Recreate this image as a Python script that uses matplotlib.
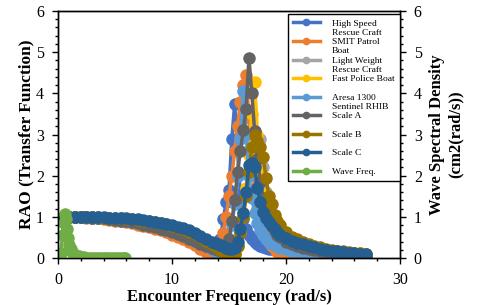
import matplotlib
matplotlib.use('Agg')
import matplotlib.pyplot as plt
from matplotlib.ticker import MultipleLocator
from matplotlib.transforms import IdentityTransform

plt.rcParams['font.family'] = ['Liberation Serif', 'DejaVu Serif']

# encounter frequency (rad/s)
freq = [0.5, 1, 1.5, 2, 2.5, 3, 3.5, 4, 4.5, 5, 5.5, 6, 6.5, 7, 7.5, 8, 8.5, 9, 9.5,
        10, 10.5, 11, 11.5, 12, 12.5, 13, 13.5,
        13.75, 14, 14.25, 14.5, 14.75, 15, 15.25, 15.5, 15.75, 16, 16.25, 16.5,
        16.75, 17, 17.25, 17.5, 17.75, 18, 18.25, 18.5, 18.75, 19, 19.25, 19.5,
        20, 20.5, 21, 21.5, 22, 22.5, 23, 23.5, 24, 24.5, 25, 25.5, 26, 26.5, 27]

# RAO values
high_speed = [1.00, 1.00, 1.00, 1.00, 0.99, 0.99, 0.98, 0.97, 0.96, 0.95, 0.93, 0.91, 0.89, 0.87,
              0.84, 0.81, 0.78, 0.74, 0.70, 0.66, 0.61, 0.55, 0.49, 0.42, 0.34, 0.25, 0.16,
              0.12, 0.10, 0.45, 0.95, 1.35, 1.65, 2.90, 3.75, 2.60, 1.55, 0.95, 0.70,
              0.55, 0.45, 0.38, 0.33, 0.30, 0.27, 0.25, 0.23, 0.22, 0.21, 0.20, 0.19,
              0.17, 0.15, 0.14, 0.12, 0.11, 0.10, 0.09, 0.08, 0.07, 0.06, 0.06, 0.05, 0.05, 0.04, 0.04]
smit_patrol = [1.00, 1.00, 0.99, 0.99, 0.98, 0.97, 0.96, 0.95, 0.93, 0.91, 0.89, 0.87, 0.84, 0.81,
               0.78, 0.75, 0.71, 0.67, 0.62, 0.57, 0.51, 0.45, 0.38, 0.31, 0.23, 0.15, 0.08,
               0.05, 0.04, 0.25, 0.60, 1.00, 1.50, 2.00, 2.60, 3.20, 3.80, 4.20, 4.44,
               3.40, 2.40, 1.70, 1.20, 0.90, 0.68, 0.52, 0.40, 0.30, 0.22, 0.14, 0.08,
               0.06, 0.05, 0.05, 0.04, 0.04, 0.04, 0.03, 0.03, 0.03, 0.03, 0.02, 0.02, 0.02, 0.02, 0.02]
light_weight = [1.00, 1.00, 1.00, 0.99, 0.99, 0.98, 0.97, 0.96, 0.95, 0.94, 0.92, 0.90, 0.88, 0.86,
                0.83, 0.80, 0.77, 0.74, 0.70, 0.66, 0.62, 0.57, 0.52, 0.46, 0.40, 0.33, 0.26,
                0.22, 0.18, 0.14, 0.10, 0.07, 0.05, 0.05, 0.10, 0.30, 0.60, 1.00, 1.50,
                2.00, 2.40, 2.70, 2.85, 2.90, 2.20, 1.60, 1.20, 0.95, 0.78, 0.65, 0.56,
                0.45, 0.38, 0.33, 0.28, 0.25, 0.22, 0.19, 0.17, 0.15, 0.13, 0.12, 0.10, 0.09, 0.08, 0.07]
fast_police = [1.00, 1.00, 1.00, 1.00, 0.99, 0.99, 0.98, 0.97, 0.96, 0.95, 0.94, 0.92, 0.91, 0.89,
               0.87, 0.84, 0.81, 0.78, 0.75, 0.71, 0.67, 0.62, 0.57, 0.51, 0.45, 0.38, 0.31,
               0.27, 0.23, 0.19, 0.15, 0.11, 0.08, 0.06, 0.10, 0.30, 0.65, 1.10, 1.70,
               2.50, 3.50, 4.28, 3.00, 2.10, 1.55, 1.20, 0.98, 0.82, 0.70, 0.62, 0.55,
               0.46, 0.40, 0.35, 0.31, 0.28, 0.25, 0.22, 0.20, 0.18, 0.16, 0.14, 0.13, 0.12, 0.11, 0.10]
aresa = [1.00, 1.00, 1.00, 0.99, 0.99, 0.98, 0.97, 0.96, 0.95, 0.94, 0.92, 0.90, 0.88, 0.86,
         0.83, 0.80, 0.77, 0.73, 0.69, 0.65, 0.60, 0.55, 0.49, 0.42, 0.35, 0.28, 0.21,
         0.17, 0.14, 0.10, 0.08, 0.15, 0.40, 0.80, 1.30, 2.00, 2.90, 4.06, 3.00,
         2.00, 1.45, 1.10, 0.85, 0.68, 0.56, 0.47, 0.40, 0.35, 0.31, 0.28, 0.25,
         0.21, 0.18, 0.16, 0.14, 0.12, 0.11, 0.10, 0.09, 0.08, 0.07, 0.06, 0.06, 0.05, 0.05, 0.04]
scale_a = [1.00, 1.00, 1.00, 0.99, 0.99, 0.98, 0.97, 0.96, 0.95, 0.93, 0.91, 0.89, 0.87, 0.84,
           0.81, 0.78, 0.75, 0.71, 0.67, 0.63, 0.58, 0.53, 0.47, 0.41, 0.35, 0.29, 0.24,
           0.22, 0.20, 0.19, 0.19, 0.25, 0.45, 0.90, 1.40, 2.10, 2.60, 3.10, 3.62,
           4.87, 4.00, 3.09, 2.40, 1.85, 1.45, 1.15, 0.93, 0.78, 0.66, 0.57, 0.50,
           0.40, 0.34, 0.29, 0.25, 0.22, 0.19, 0.17, 0.15, 0.13, 0.11, 0.10, 0.09, 0.08, 0.07, 0.06]
scale_b = [1.00, 1.00, 1.00, 1.00, 1.00, 0.99, 0.99, 0.98, 0.98, 0.97, 0.96, 0.95, 0.94, 0.93,
           0.91, 0.89, 0.87, 0.85, 0.82, 0.78, 0.74, 0.70, 0.64, 0.58, 0.50, 0.42, 0.35,
           0.30, 0.25, 0.20, 0.15, 0.10, 0.06, 0.04, 0.10, 0.30, 0.60, 1.00, 1.50,
           2.10, 2.70, 3.00, 2.85, 2.70, 2.45, 1.95, 1.50, 1.30, 1.05, 0.90, 0.80,
           0.62, 0.52, 0.45, 0.39, 0.34, 0.30, 0.26, 0.23, 0.20, 0.18, 0.16, 0.14, 0.12, 0.11, 0.10]
scale_c = [1.00, 1.00, 1.00, 1.00, 1.00, 1.00, 0.99, 0.99, 0.98, 0.98, 0.97, 0.96, 0.95, 0.94,
           0.92, 0.90, 0.88, 0.86, 0.83, 0.80, 0.76, 0.72, 0.67, 0.60, 0.53, 0.46, 0.40,
           0.37, 0.34, 0.31, 0.28, 0.25, 0.23, 0.22, 0.25, 0.40, 0.70, 1.10, 1.60,
           2.25, 2.30, 2.20, 1.70, 1.35, 1.12, 0.98, 0.87, 0.78, 0.70, 0.63, 0.57,
           0.48, 0.42, 0.37, 0.33, 0.29, 0.26, 0.23, 0.20, 0.18, 0.16, 0.14, 0.12, 0.11, 0.10, 0.09]

# wave spectrum
wave_x = [0.1, 0.25, 0.4, 0.5, 0.6, 0.7, 0.8, 0.9, 1.0, 1.1, 1.25, 1.4, 1.6, 1.8, 2.0, 2.25,
          2.5, 2.75, 3.0, 3.25, 3.5, 3.75, 4.0, 4.25, 4.5, 4.75, 5.0, 5.25, 5.5, 5.75, 5.9]
wave_s = [0.00, 0.12, 0.55, 0.85, 1.08, 0.95, 0.70, 0.48, 0.32, 0.22, 0.14, 0.09, 0.06, 0.04,
          0.03, 0.02, 0.01, 0.01, 0.01, 0, 0, 0, 0, 0, 0, 0, 0, 0, 0, 0, 0]

series = [high_speed, smit_patrol, light_weight, fast_police, aresa, scale_a, scale_b, scale_c]
label_top = ['High Speed', 'SMIT Patrol', 'Light Weight', 'Fast Police Boat', 'Aresa 1300',
             'Scale A', 'Scale B', 'Scale C', 'Wave Freq.']
label_wrap = ['Rescue Craft', 'Boat', 'Rescue Craft', '', 'Sentinel RHIB', '', '', '', '']
colors = ['#4472C4', '#ED7D31', '#A5A5A5', '#FFC000', '#5B9BD5', '#636363', '#997300',
          '#255E91', '#70AD47']

fig = plt.figure(figsize=(4.8, 3.05), dpi=100)
ax = fig.add_axes([0.1208, 0.1541, 0.7125, 0.8098])
ax2 = ax.twinx()

for y, c, lab in zip(series, colors, label_top):
    ax.plot(freq, y, '-o', color=c, lw=2.5, ms=8, label=lab)
ax2.plot(wave_x, wave_s, '-o', color=colors[-1], lw=2.5, ms=8, label=label_top[-1])

ax.set_xlim(0, 30)
ax.set_ylim(0, 6)
ax2.set_ylim(0, 6)
ax.xaxis.set_major_locator(MultipleLocator(10))
ax.xaxis.set_minor_locator(MultipleLocator(2))
for a in (ax, ax2):
    a.yaxis.set_major_locator(MultipleLocator(1))
    a.yaxis.set_minor_locator(MultipleLocator(0.2))
    a.tick_params(which='major', direction='out', length=4, width=1, labelsize=11.5, pad=6)
    a.tick_params(which='minor', direction='out', length=2.5, width=1)
    for s in a.spines.values():
        s.set_linewidth(1)

ax.set_xlabel('Encounter Frequency (rad/s)', fontsize=12, fontweight='bold', labelpad=1)
ax.set_ylabel('RAO (Transfer Function)', fontsize=12.5, fontweight='bold', labelpad=1)
ax2.set_ylabel('Wave Spectral Density\n(cm2(rad/s))', fontsize=12, fontweight='bold', labelpad=5)

h1, l1 = ax.get_legend_handles_labels()
h2, l2 = ax2.get_legend_handles_labels()
leg = ax2.legend(h1 + h2, l1 + l2, loc='upper left', bbox_to_anchor=(0.6725, 0.988),
                 fontsize=6.8, frameon=True, fancybox=False, framealpha=1,
                 edgecolor='black', borderpad=0.55, handlelength=2.8, handletextpad=1.3,
                 labelspacing=1.05, borderaxespad=0)
leg.get_frame().set_linewidth(1)
for hl in leg.legend_handles:
    hl.set_markersize(4.5)

# second lines of the wrapped legend labels, spilling below the first line
fig.canvas.draw()
for txt, extra in zip(leg.get_texts(), label_wrap):
    if extra:
        bb = txt.get_window_extent()
        fig.text(bb.x0, bb.y0 - 1, extra, transform=IdentityTransform(),
                 fontsize=6.8, va='top', ha='left')

fig.savefig('out.png', dpi=100)
